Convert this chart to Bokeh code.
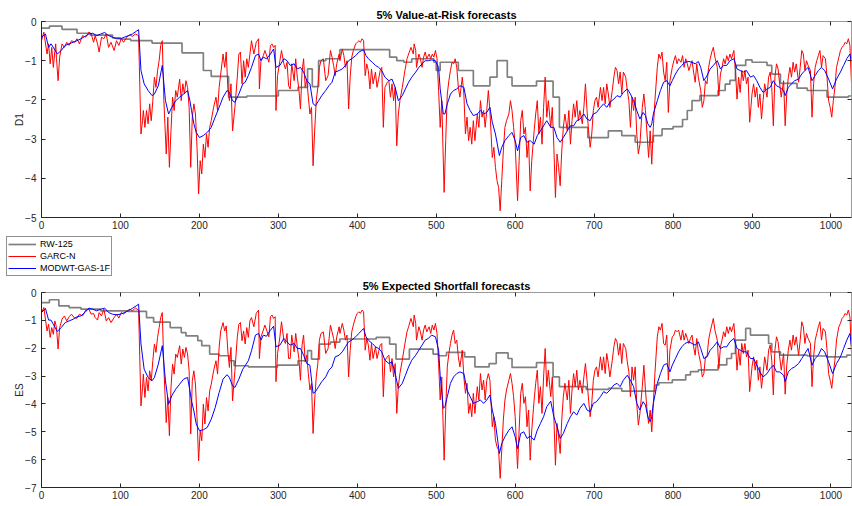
from bokeh.plotting import figure
from bokeh.models import Range1d, LinearAxis, FixedTicker, Legend, LegendItem
from bokeh.layouts import column
from bokeh.embed import file_html
from bokeh.resources import INLINE

FONT = "Liberation Sans"
AX = "#262626"

X_TICKS = list(range(0, 1001, 100))
VAR_TICKS = [0, -1, -2, -3, -4, -5]
ES_TICKS = [0, -1, -2, -3, -4, -5, -6, -7]
TITLES = ["5% Value-at-Risk forecasts", "5% Expected Shortfall forecasts"]
YLABELS = ["D1", "ES"]
SERIES_NAMES = ["RW-125", "GARC-N", "MODWT-GAS-1F"]
COLORS = ["#808080", "#ff0000", "#0000ff"]
WIDTHS = [1.7, 1, 1]
X_MAX = 1026

# ---------------- RW-125 (step series) ----------------
GRAY_VAR_X = [0, 10, 26, 45, 62, 90, 100, 113, 140, 178, 205, 215, 237, 260, 300, 325, 337, 343, 351, 360,
              378, 441, 450, 459, 469, 497, 500, 505, 528, 547, 568, 577, 590, 596, 627, 648, 656, 692, 718, 735,
              752, 775, 786, 800, 812, 818, 824, 834, 857, 866, 872, 879, 892, 900, 919, 925, 936, 957, 970, 995,
              1022, 1026]
GRAY_VAR = [-0.17, -0.12, -0.20, -0.30, -0.35, -0.42, -0.45, -0.49, -0.55, -0.80, -1.25, -1.40, -1.93, -1.90, -1.76, -1.68, -1.21, -1.66, -1.00, -0.95,
            -0.72, -0.91, -1.00, -1.04, -0.95, -1.04, -1.25, -1.04, -1.25, -1.64, -1.42, -1.00, -1.42, -1.64, -1.52, -1.93, -2.70, -2.96, -2.79, -2.91,
            -3.08, -2.91, -2.74, -2.68, -2.50, -2.27, -2.02, -1.89, -1.76, -1.60, -1.50, -1.12, -0.98, -1.04, -1.12, -1.34, -1.58, -1.70, -1.76, -1.93,
            -1.90, -1.90]
GRAY_ES_X = [0, 10, 22, 35, 50, 75, 110, 133, 142, 163, 177, 183, 198, 203, 213, 225, 238, 244, 262, 299,
             325, 337, 342, 352, 366, 378, 424, 441, 449, 466, 496, 503, 513, 536, 549, 567, 576, 591, 596, 627,
             648, 656, 690, 718, 735, 777, 782, 799, 816, 822, 832, 857, 868, 874, 879, 892, 898, 921, 925, 936,
             970, 995, 1020, 1026]
GRAY_ES = [-0.36, -0.26, -0.48, -0.54, -0.60, -0.66, -0.68, -0.90, -1.06, -1.26, -1.44, -1.56, -1.73, -1.91, -2.21, -2.27, -2.45, -2.63, -2.67, -2.61,
           -2.45, -2.09, -2.39, -1.85, -1.78, -1.67, -1.61, -1.85, -2.39, -2.03, -2.21, -2.27, -2.15, -2.31, -2.67, -2.55, -2.17, -2.37, -2.69, -2.52,
           -3.03, -3.38, -3.48, -3.44, -3.54, -3.32, -3.24, -3.14, -2.96, -2.84, -2.78, -2.60, -2.37, -2.19, -1.71, -1.29, -1.53, -1.83, -2.13, -2.25,
           -2.28, -2.31, -2.25, -2.25]

# ---------------- GARC-N ----------------
RED_X = [0, 3, 7, 9, 11, 13, 15, 17, 18, 19, 21, 23, 26, 29, 32, 35, 38, 42, 45, 48,
         52, 56, 60, 63, 66, 68, 71, 73, 76, 79, 82, 85, 88, 92, 95, 98, 101, 104, 108, 112,
         115, 119, 123, 126, 128, 129, 131, 133, 135, 137, 139, 141, 143, 145, 147, 149, 151, 153, 155, 158,
         160, 162, 164, 166, 168, 170, 172, 175, 177, 179, 181, 183, 185, 187, 189, 191, 193, 195, 197, 199,
         201, 203, 205, 207, 209, 211, 213, 215, 218, 221, 223, 225, 227, 230, 232, 234, 236, 238, 240, 242,
         245, 248, 250, 252, 254, 256, 258, 260, 262, 264, 266,
         269, 272, 275, 276, 278, 281, 283, 288, 290, 292, 294, 296, 297, 299, 302, 304, 307, 309, 311, 313,
         315, 317, 320, 322, 324, 326, 328, 330, 332, 334, 336, 338, 340, 342, 344, 346, 348, 350, 352, 354,
         357, 360, 363, 366, 368, 370, 372, 374, 377, 378, 381, 383, 385, 387, 389, 391, 393, 395, 398, 400,
         402, 404, 406, 408, 410, 412, 414, 416, 418, 420, 423, 425, 427, 429, 431, 433, 435, 438, 440, 442,
         444, 446, 448, 450, 452, 454, 457, 460, 463, 465, 468, 471, 472, 474, 475, 478, 480, 482, 484, 486,
         488, 491, 493, 495, 497, 499, 501, 503, 505, 507, 510, 512, 514, 516, 518,
         520, 522, 524, 526, 528, 530, 533, 535, 537, 539, 541, 543, 545, 547, 549, 552, 554, 556, 558, 560,
         562, 564, 566, 568, 571, 573, 575, 577, 579, 581, 583, 585, 587, 589, 592, 594, 596, 598, 600, 603,
         605, 607, 609, 611, 613, 615, 617, 619, 621, 624, 626, 628, 630, 632, 634, 636, 638, 640, 642, 645,
         647, 649, 651, 653, 655, 657, 659, 661, 663, 666, 668, 670, 672, 674, 676, 678, 680, 682, 685, 687,
         689, 691, 693, 695, 697, 699, 701, 703, 705, 708, 710, 712, 714, 716, 718, 720, 723, 725, 727, 729,
         731, 733, 735, 737, 740, 742, 744, 746, 748, 750, 752, 754, 756, 758,
         761, 763, 765, 767, 769, 771, 773, 775, 777, 780, 782, 784, 786, 788, 790, 792, 794, 796, 799, 801,
         803, 805, 807, 810, 812, 814, 816, 818, 820, 822, 824, 826, 828, 830, 832, 835, 837, 839, 841, 843,
         845, 847, 849, 851, 853, 856, 858, 860, 862, 864, 866, 868, 870, 872, 874, 877, 879, 881, 883, 885,
         887, 889, 891, 893, 895, 897, 900, 902, 904, 906, 908, 910, 912, 914, 916, 919, 921, 923, 925, 927,
         929, 931, 933, 935, 937, 940, 942, 944, 946, 948, 950, 952, 954, 956, 959, 961, 963, 965, 967, 969,
         971, 974, 976, 978, 980, 982, 984, 986, 988, 990, 993, 995, 997, 999, 1001, 1003, 1005, 1007, 1010, 1012,
         1014, 1016, 1018, 1020, 1022, 1024, 1026]
RED_VAR = [-0.49, -0.27, -0.83, -0.57, -1.08, -0.66, -1.17, -0.74, -0.57, -0.95,
           -1.51, -0.91, -0.57, -0.66, -0.53, -0.61, -0.49, -0.53, -0.44, -0.57,
           -0.36, -0.40, -0.27, -0.32, -0.53, -0.36, -0.57, -0.78, -0.40, -0.44,
           -0.32, -0.66, -0.53, -0.74, -0.49, -0.61, -0.44, -0.53, -0.40, -0.34,
           -0.38, -0.32, -0.36,
           -2.87, -2.53, -2.27, -2.70, -2.27, -2.61, -2.10, -2.53, -2.02, -1.42,
           -1.68, -1.25, -1.00, -0.61, -0.49, -2.02, -3.38, -2.44, -3.72, -2.79,
           -1.93, -2.27, -1.76, -1.93, -1.47, -2.02, -1.59, -1.85, -1.51, -1.68,
           -2.19, -3.72, -2.44, -2.10, -2.36, -3.21, -4.40, -3.55, -3.89, -3.13,
           -3.47, -2.87, -3.21, -2.70, -2.53, -2.19, -1.93, -2.27, -1.68, -1.34,
           -0.83, -1.17, -0.78, -1.68, -2.02, -1.59, -2.79, -2.19, -1.42, -0.83,
           -0.78, -1.59, -1.00, -1.42, -0.95, -1.17, -0.83, -0.49,
           -0.83, -0.53, -0.44, -1.72, -1.00, -0.87, -0.74, -1.04, -0.61, -0.57,
           -0.66, -0.61, -2.27, -1.38, -1.00, -0.74, -1.08, -1.21, -1.04, -1.64,
           -1.72, -1.08, -1.51, -0.95, -1.42, -1.72, -2.23, -1.29, -0.95, -1.68,
           -1.47, -1.93, -2.36, -2.19, -3.68, -2.79, -2.02, -1.68, -1.17, -1.00,
           -0.95, -1.51, -1.38, -0.74, -0.91, -1.12, -1.38, -1.08, -0.83, -1.00,
           -0.70, -0.87, -1.17, -1.00, -2.23, -1.42, -0.91, -0.74, -0.57, -0.53,
           -0.49, -0.53, -0.44, -0.49, -1.38, -1.08, -1.25, -1.72, -1.21, -1.59,
           -1.29, -1.68, -1.47, -1.25, -1.17, -2.70, -1.68, -1.55, -1.51, -1.93,
           -1.59, -2.02, -1.68, -3.17, -2.36, -2.02, -1.68, -1.29, -0.95, -0.83,
           -0.66, -0.83, -0.57, -0.74, -1.17, -0.83, -0.95, -1.17, -0.91, -0.78,
           -0.95, -0.83, -0.95, -0.83, -0.91, -0.74, -0.95, -1.76, -2.70, -2.02,
           -4.36, -3.04, -1.85, -1.51, -1.25,
           -1.04, -1.08, -0.95, -1.17, -1.68, -1.93, -1.42, -1.85, -2.87, -2.44,
           -3.04, -2.70, -3.13, -2.53, -3.04, -2.36, -2.70, -2.02, -2.44, -2.27,
           -2.70, -2.27, -1.76, -2.27, -3.47, -3.21, -3.72, -4.06, -4.23, -4.83,
           -4.06, -3.30, -2.70, -2.53, -2.36, -2.02, -2.27, -2.70, -3.13, -4.57,
           -3.55, -2.53, -2.27, -2.87, -2.70, -3.47, -3.04, -4.32, -3.55, -2.79,
           -2.36, -2.02, -2.87, -2.44, -3.13, -2.19, -1.42, -2.44, -2.02, -2.70,
           -2.19, -3.21, -4.49, -3.38, -3.72, -4.19, -3.30, -2.70, -2.36, -2.79,
           -2.27, -3.13, -2.53, -2.10, -2.44, -2.02, -2.53, -2.27, -2.61, -2.19,
           -1.59, -2.27, -2.79, -3.21, -2.87, -2.27, -2.02, -1.93, -2.19, -1.68,
           -2.02, -1.68, -2.10, -1.59, -1.85, -2.19, -1.76, -1.42, -1.17, -1.25,
           -1.59, -1.29, -1.85, -1.29, -1.42, -1.76, -2.02, -2.70, -1.93, -2.27,
           -1.93, -2.87, -3.38, -3.13,
           -2.19, -1.85, -2.27, -2.87, -3.47, -2.79, -3.64, -2.70, -2.02, -1.17,
           -0.83, -0.95, -0.78, -1.29, -1.51, -1.04, -2.32, -1.51, -1.17, -1.00,
           -0.87, -1.08, -0.95, -1.04, -0.87, -1.17, -0.95, -1.08, -1.25, -1.12,
           -1.00, -1.29, -1.55, -1.08, -1.42, -1.76, -2.19, -2.02, -1.51, -1.59,
           -1.17, -0.95, -0.78, -0.66, -0.91, -1.17, -1.89, -1.34, -1.17, -0.95,
           -1.08, -0.87, -1.00, -0.83, -0.95, -0.74, -1.25, -1.98, -1.42, -1.81,
           -1.25, -1.51, -1.25, -1.59, -1.42, -2.57, -1.85, -1.59, -1.93, -1.68,
           -2.19, -1.85, -2.49, -2.02, -1.59, -1.93, -1.42, -1.29, -1.68, -2.66,
           -1.42, -1.08, -1.21, -1.59, -1.93, -1.51, -2.66, -1.85, -1.42, -1.17,
           -1.42, -1.04, -1.29, -1.08, -1.55, -1.17, -0.74, -0.83, -1.25, -1.00,
           -1.12, -1.25, -2.44, -1.59, -1.17, -1.00, -0.87, -0.74, -1.17, -0.87,
           -0.95, -1.42, -2.02, -2.19, -2.44, -2.02, -1.68, -1.17, -0.91, -0.74,
           -0.66, -0.61, -0.53, -0.57, -0.44, -0.61, -1.59]
RED_ES = [-0.72, -0.54, -1.38, -1.14, -1.61, -1.26, -1.50, -1.02, -1.14, -1.26,
          -2.03, -1.26, -0.96, -0.84, -1.02, -0.87, -0.78, -0.92, -0.92, -0.78,
          -0.84, -0.63, -0.60, -0.78, -0.75, -0.90, -0.99, -0.72, -0.84, -0.60,
          -1.02, -0.90, -1.08, -0.90, -0.78, -0.92, -0.72, -0.78, -0.66, -0.60,
          -0.66, -0.56, -0.63,
          -4.07, -3.41, -2.93, -3.77, -3.05, -3.53, -2.81, -3.17, -2.45, -1.85,
          -2.15, -1.61, -1.26, -0.90, -0.72, -2.69, -4.67, -3.77, -5.14, -3.41,
          -2.57, -2.93, -2.21, -2.33, -1.91, -2.57, -2.03, -2.33, -1.97, -2.21,
          -2.81, -5.08, -3.17, -2.81, -3.29, -4.49, -6.04, -4.96, -5.32, -4.01,
          -4.72, -3.77, -4.25, -3.53, -3.29, -2.81, -2.45, -2.93, -1.97, -1.38,
          -1.08, -1.38, -1.20, -2.09, -2.69, -1.97, -3.89, -2.81, -1.61, -1.14,
          -1.08, -1.73, -1.38, -1.85, -1.26, -1.61, -1.02, -0.90,
          -1.23, -0.75, -0.63, -2.37, -1.59, -1.35, -1.17, -1.59, -0.87, -0.81,
          -0.93, -0.87, -3.20, -2.19, -1.59, -1.05, -1.71, -1.83, -1.47, -2.37,
          -2.37, -1.53, -2.13, -1.47, -1.95, -2.37, -3.15, -1.89, -1.53, -2.49,
          -2.25, -2.91, -3.50, -3.26, -5.06, -3.86, -3.03, -2.55, -1.71, -1.47,
          -1.41, -2.19, -2.01, -1.17, -1.41, -1.65, -2.01, -1.59, -1.23, -1.47,
          -1.11, -1.35, -1.71, -1.53, -3.03, -2.07, -1.41, -1.17, -0.87, -0.75,
          -0.69, -0.75, -0.63, -0.69, -2.07, -1.65, -1.89, -2.43, -1.83, -2.37,
          -1.95, -2.37, -2.13, -1.89, -1.83, -3.74, -2.43, -2.31, -2.25, -2.85,
          -2.37, -3.03, -2.55, -4.34, -3.38, -2.91, -2.43, -1.89, -1.41, -1.23,
          -0.93, -1.23, -0.81, -1.11, -1.71, -1.23, -1.41, -1.71, -1.35, -1.17,
          -1.41, -1.23, -1.47, -1.17, -1.35, -1.11, -1.47, -2.55, -3.86, -3.03,
          -6.02, -4.22, -2.67, -2.19, -1.83,
          -1.53, -1.35, -1.83, -1.71, -2.31, -2.67, -2.07, -3.03, -3.62, -3.26,
          -4.34, -3.98, -4.46, -3.62, -4.34, -3.38, -3.86, -2.91, -3.50, -3.15,
          -3.86, -3.15, -2.91, -3.15, -4.82, -4.46, -5.30, -5.54, -5.66, -6.67,
          -5.66, -4.58, -3.86, -3.50, -3.15, -2.91, -3.26, -3.74, -4.46, -6.32,
          -4.94, -3.62, -3.26, -3.98, -3.74, -4.82, -4.22, -6.02, -4.94, -3.86,
          -3.26, -2.79, -3.98, -3.38, -4.34, -3.03, -2.01, -3.38, -2.79, -3.74,
          -3.03, -4.46, -6.20, -4.70, -5.18, -5.78, -4.58, -3.74, -3.26, -3.86,
          -3.15, -4.34, -3.50, -2.91, -3.38, -2.79, -3.50, -3.15, -3.62, -3.03,
          -2.55, -3.15, -3.86, -4.46, -3.98, -3.15, -2.79, -2.67, -3.03, -2.31,
          -2.79, -2.31, -2.91, -2.19, -2.55, -3.03, -2.43, -1.95, -1.65, -1.77,
          -2.25, -1.83, -2.55, -1.83, -2.01, -2.49, -2.85, -3.74, -2.67, -3.15,
          -2.67, -3.98, -4.76, -4.34,
          -3.38, -2.61, -3.50, -4.22, -4.70, -4.22, -5.00, -3.98, -2.91, -1.59,
          -1.23, -1.35, -1.11, -1.83, -1.89, -1.53, -3.15, -2.07, -1.59, -1.53,
          -1.35, -1.41, -1.35, -1.71, -1.35, -1.71, -1.47, -1.65, -1.83, -1.65,
          -1.53, -1.95, -2.25, -1.65, -2.13, -2.55, -3.03, -2.91, -2.31, -2.31,
          -1.71, -1.41, -1.17, -0.93, -1.35, -1.71, -2.73, -1.95, -1.71, -1.41,
          -1.59, -1.23, -1.47, -1.23, -1.41, -1.11, -1.83, -2.79, -2.07, -2.61,
          -1.83, -2.19, -1.83, -2.31, -2.07, -3.56, -2.67, -2.31, -2.79, -2.43,
          -3.15, -2.67, -3.44, -2.91, -2.31, -2.79, -2.07, -1.89, -2.43, -3.68,
          -2.07, -1.59, -1.77, -2.31, -2.79, -2.19, -3.65, -2.61, -2.07, -1.71,
          -2.07, -1.53, -1.89, -1.59, -2.25, -1.71, -1.05, -1.23, -1.83, -1.47,
          -1.65, -1.83, -3.38, -2.31, -1.71, -1.47, -1.23, -1.05, -1.71, -1.29,
          -1.41, -2.07, -2.91, -3.15, -3.44, -2.91, -2.43, -1.71, -1.23, -1.11,
          -0.93, -0.87, -0.75, -0.81, -0.63, -0.87, -2.19]

# ---------------- MODWT-GAS-1F ----------------
BLUE_X = [0, 5, 9, 12, 15, 20, 25, 30, 35, 40, 45, 50, 55, 60, 65, 70, 75, 80, 85, 90,
          95, 100, 105, 110, 115, 120, 123, 126, 130, 135, 140, 143, 148, 153, 157, 161, 165, 170, 175, 180,
          185, 188, 190, 193, 196, 200, 205, 210, 215, 220, 225, 230, 235, 238, 242, 245, 250, 255, 258, 262,
          266,
          271, 275, 278, 281, 285, 290, 294, 297, 302, 307, 311, 315, 320, 324, 328, 332, 336, 340, 344, 347,
          351, 355, 360, 364, 368, 372, 377, 381, 385, 389, 393, 398, 402, 406, 408, 411, 414, 419, 423, 427,
          431, 435, 440, 444, 448, 452, 457, 461, 465, 469, 474, 478, 482, 486, 490, 494, 499, 503, 505, 509,
          511, 514, 516, 518, 522, 526, 530, 535, 539, 543, 547, 552, 556, 560, 564, 568, 571, 575, 580, 583,
          587, 592, 596, 600, 603, 607, 611, 615, 619, 624, 628, 632, 636, 640, 645, 649, 653, 657, 661, 666,
          670, 674, 678, 682, 687, 691, 695, 699, 703, 708, 712, 716, 720, 725, 729, 733, 737, 742, 746, 750,
          754, 758,
          762, 765, 768, 771, 773, 775, 780, 784, 788, 792, 796, 799, 803, 807, 811, 815, 820, 824, 828, 832,
          835, 839, 843, 847, 851, 856, 860, 864, 868, 872, 877, 881, 885, 889, 893, 898, 902, 906, 910, 914,
          919, 923, 927, 931, 935, 940, 942, 946, 950, 954, 959, 963, 967, 971, 976, 980, 984, 988, 992, 997,
          1002, 1007, 1012, 1016, 1020, 1024, 1026]
BLUE_VAR = [-0.40, -0.32, -0.66, -0.57, -0.66, -0.83, -0.74, -0.61, -0.57, -0.53,
            -0.49, -0.44, -0.38, -0.32, -0.30, -0.36, -0.32, -0.28, -0.36, -0.40,
            -0.44, -0.44, -0.40, -0.36, -0.32, -0.25, -0.21, -1.25, -1.59, -1.76,
            -1.89, -1.85, -1.64, -1.12, -2.02, -2.36, -2.19, -2.02, -1.93, -1.85,
            -1.76, -2.02, -2.27, -2.61, -2.83, -2.96, -2.91, -2.83, -2.70, -2.44,
            -2.19, -1.93, -1.76, -1.81, -2.02, -2.06, -1.85, -1.59, -1.55, -1.38,
            -1.17,
            -0.87, -0.83, -1.00, -0.91, -0.95, -0.83, -0.70, -1.17, -1.12, -0.95,
            -1.00, -1.12, -1.08, -1.21, -1.17, -1.29, -1.51, -1.59, -2.10, -2.15,
            -2.02, -1.89, -1.76, -1.64, -1.55, -1.29, -1.25, -1.21, -1.12, -1.00,
            -0.95, -0.87, -0.78, -0.74, -0.72, -0.87, -0.95, -1.04, -1.12, -1.17,
            -1.25, -1.42, -1.51, -1.47, -1.68, -2.02, -1.89, -1.72, -1.55, -1.42,
            -1.29, -1.17, -1.08, -1.00, -1.00, -0.98, -1.00, -1.17, -1.72, -2.36,
            -2.36, -2.10, -1.98, -1.85, -1.76, -1.72, -1.64, -1.68, -2.10, -2.27,
            -2.40, -2.36, -2.27, -2.36, -2.32, -2.19, -2.57, -2.87, -3.42, -3.21,
            -3.04, -2.91, -2.83, -3.04, -3.30, -2.96, -2.91, -3.08, -3.04, -3.13,
            -2.91, -2.79, -2.66, -2.53, -2.70, -2.70, -2.96, -3.08, -2.96, -2.79,
            -2.66, -2.66, -2.53, -2.49, -2.36, -2.49, -2.53, -2.36, -2.32, -2.19,
            -2.10, -2.19, -2.06, -1.98, -1.89, -1.93, -1.81, -1.72, -1.85, -2.02,
            -2.27, -2.49,
            -2.32, -2.40, -2.61, -2.70, -2.61, -2.36, -2.02, -1.76, -1.55, -1.51,
            -1.64, -1.51, -1.34, -1.21, -1.12, -1.04, -1.02, -1.04, -1.08, -1.02,
            -1.17, -1.51, -1.38, -1.21, -1.12, -1.00, -1.21, -1.12, -1.12, -1.00,
            -0.95, -1.21, -1.25, -1.29, -1.25, -1.42, -1.38, -1.51, -1.68, -1.81,
            -1.72, -1.68, -1.51, -1.64, -1.68, -1.76, -1.89, -1.68, -1.59, -1.51,
            -1.47, -1.34, -1.25, -1.17, -1.51, -1.38, -1.25, -1.17, -1.25, -1.47,
            -1.72, -1.47, -1.29, -1.12, -0.95, -0.83, -1.04]
BLUE_ES = [-0.72, -0.57, -0.99, -0.99, -1.14, -1.40, -1.26, -1.08, -1.02, -0.96,
           -0.87, -0.84, -0.72, -0.56, -0.60, -0.66, -0.60, -0.56, -0.72, -0.78,
           -0.80, -0.78, -0.72, -0.66, -0.57, -0.48, -0.42, -1.85, -2.75, -3.05,
           -3.17, -3.05, -2.57, -1.91, -3.17, -4.01, -3.71, -3.47, -3.29, -3.11,
           -3.05, -3.53, -3.89, -4.25, -4.72, -4.96, -4.93, -4.84, -4.55, -4.13,
           -3.59, -3.11, -2.95, -3.05, -3.35, -3.41, -3.11, -2.75, -2.63, -2.45,
           -2.09,
           -1.53, -1.47, -1.71, -1.53, -1.57, -1.35, -1.21, -1.95, -1.89, -1.65,
           -1.77, -1.89, -1.83, -2.01, -2.01, -2.25, -2.55, -2.61, -3.62, -3.56,
           -3.38, -3.20, -3.03, -2.79, -2.67, -2.31, -2.25, -2.13, -1.95, -1.77,
           -1.71, -1.59, -1.47, -1.35, -1.29, -1.59, -1.71, -1.83, -1.95, -2.01,
           -2.13, -2.43, -2.55, -2.49, -2.91, -3.44, -3.26, -2.97, -2.67, -2.43,
           -2.25, -2.07, -1.89, -1.71, -1.65, -1.53, -1.59, -2.07, -2.97, -4.16,
           -4.10, -3.74, -3.50, -3.26, -3.03, -2.91, -2.85, -2.91, -3.50, -3.74,
           -3.98, -3.92, -3.86, -3.98, -3.86, -3.68, -4.22, -4.70, -5.78, -5.42,
           -5.18, -4.94, -4.82, -5.18, -5.60, -5.06, -5.00, -5.24, -5.15, -5.30,
           -4.94, -4.70, -4.46, -4.10, -3.90, -4.46, -4.82, -5.24, -5.06, -4.70,
           -4.46, -4.28, -4.40, -4.16, -3.98, -4.22, -4.28, -3.98, -3.92, -3.74,
           -3.56, -3.62, -3.50, -3.32, -3.26, -3.38, -3.15, -2.97, -3.15, -3.38,
           -3.98, -4.22,
           -3.92, -4.04, -4.46, -4.64, -4.46, -3.98, -3.26, -2.91, -2.61, -2.55,
           -2.85, -2.61, -2.37, -2.13, -1.95, -1.83, -1.77, -1.83, -1.89, -1.77,
           -2.01, -2.37, -2.31, -2.07, -1.95, -1.77, -2.01, -1.95, -1.95, -1.77,
           -1.65, -2.01, -2.07, -2.13, -2.13, -2.37, -2.37, -2.61, -2.85, -3.03,
           -2.91, -2.73, -2.61, -2.85, -2.85, -2.97, -3.20, -2.85, -2.73, -2.67,
           -2.55, -2.37, -2.19, -2.01, -2.61, -2.37, -2.25, -2.01, -2.13, -2.49,
           -2.91, -2.55, -2.31, -2.01, -1.71, -1.47, -1.95]

for nm, a, b in [("gray var", GRAY_VAR_X, GRAY_VAR), ("gray es", GRAY_ES_X, GRAY_ES),
                 ("red var", RED_X, RED_VAR), ("red es", RED_X, RED_ES),
                 ("blue var", BLUE_X, BLUE_VAR), ("blue es", BLUE_X, BLUE_ES)]:
    assert len(a) == len(b), (nm, len(a), len(b))

FIG_W = 852


def add_axis(p, side, ticks, show_labels, label=None, standoff=3):
    ax = LinearAxis(ticker=FixedTicker(ticks=ticks))
    ax.major_tick_in = 4
    ax.major_tick_out = 0
    ax.minor_tick_line_color = None
    ax.major_tick_line_color = AX
    if show_labels:
        ax.axis_line_color = AX
        ax.major_label_text_font = FONT
        ax.major_label_text_font_size = "10px"
        ax.major_label_text_color = AX
        ax.major_label_standoff = standoff
    else:
        ax.axis_line_color = "#9a9a9a"
        ax.major_label_text_font_size = "0px"
        ax.major_label_text_color = None
        ax.major_label_standoff = 0
    if label:
        ax.axis_label = label
        ax.axis_label_text_font = FONT
        ax.axis_label_text_font_size = "10px"
        ax.axis_label_text_font_style = "normal"
        ax.axis_label_text_color = AX
        ax.axis_label_standoff = -3
    p.add_layout(ax, side)
    return ax


def build(height, ylo, yticks, title, ylabel, btop, bbot, gx, gy, rx, ry, bx, by):
    p = figure(width=FIG_W, height=height, output_backend="svg", toolbar_location=None,
               x_range=Range1d(0, X_MAX), y_range=Range1d(ylo, 0),
               x_axis_type=None, y_axis_type=None,
               min_border_left=41, min_border_right=1,
               min_border_top=btop, min_border_bottom=bbot,
               title=title)
    p.outline_line_color = None
    p.background_fill_color = "white"
    p.border_fill_color = "white"
    p.title.text_font = FONT
    p.title.text_font_size = "11px"
    p.title.text_font_style = "bold"
    p.title.text_color = "black"
    p.title.align = "center"
    p.title.standoff = 1
    add_axis(p, "below", X_TICKS, True, standoff=3)
    add_axis(p, "left", yticks, True, ylabel, standoff=5)
    add_axis(p, "above", X_TICKS, False)
    add_axis(p, "right", yticks, False)
    p.step(gx, gy, mode="after", line_color=COLORS[0], line_width=WIDTHS[0])
    p.line(rx, ry, line_color=COLORS[1], line_width=WIDTHS[1])
    p.line(bx, by, line_color=COLORS[2], line_width=WIDTHS[2])
    return p


# page origin is (0, 0): Bokeh's page template has no body margin
H1, T1, B1 = 233, 21, 16
H2, T2, B2 = 226, 15, 16
p1 = build(H1, -5, VAR_TICKS, TITLES[0], YLABELS[0], T1, B1,
           GRAY_VAR_X, GRAY_VAR, RED_X, RED_VAR, BLUE_X, BLUE_VAR)
p2 = build(H2, -7, ES_TICKS, TITLES[1], YLABELS[1], T2, B2,
           GRAY_ES_X, GRAY_ES, RED_X, RED_ES, BLUE_X, BLUE_ES)

# legend strip between the two panels (its renderers are hidden; only the legend is drawn)
LEG_W, LEG_H = 160, 44
leg_fig = figure(width=LEG_W, height=LEG_H, output_backend="svg", toolbar_location=None,
                 x_range=Range1d(0, 1), y_range=Range1d(0, 1),
                 x_axis_location=None, y_axis_location=None, min_border=0)
if "frame_align" in leg_fig.properties():
    leg_fig.frame_align = False
leg_fig.outline_line_color = None
leg_fig.grid.visible = False
leg_fig.background_fill_color = "white"
leg_fig.border_fill_color = "white"
leg_rends = [
    leg_fig.step(GRAY_VAR_X, GRAY_VAR, mode="after", line_color=COLORS[0], line_width=WIDTHS[0], visible=False),
    leg_fig.line(RED_X, RED_VAR, line_color=COLORS[1], line_width=WIDTHS[1], visible=False),
    leg_fig.line(BLUE_X, BLUE_VAR, line_color=COLORS[2], line_width=WIDTHS[2], visible=False),
]
legend = Legend(items=[LegendItem(label=n, renderers=[r]) for n, r in zip(SERIES_NAMES, leg_rends)],
                location=(6, 1))
legend.click_policy = "none"
legend.inactive_fill_alpha = 0
legend.border_line_color = AX
legend.border_line_width = 1
legend.background_fill_color = "white"
legend.background_fill_alpha = 1
legend.label_text_font = FONT
legend.label_text_font_size = "9px"
legend.label_text_color = "black"
legend.glyph_width = 28
legend.glyph_height = 12
legend.label_height = 12
legend.label_standoff = 4
legend.spacing = 0
legend.padding = 1
legend.margin = 0
leg_fig.add_layout(legend)

layout = column(p1, leg_fig, p2, spacing=0)
open("out.html", "w").write(file_html(layout, INLINE))
